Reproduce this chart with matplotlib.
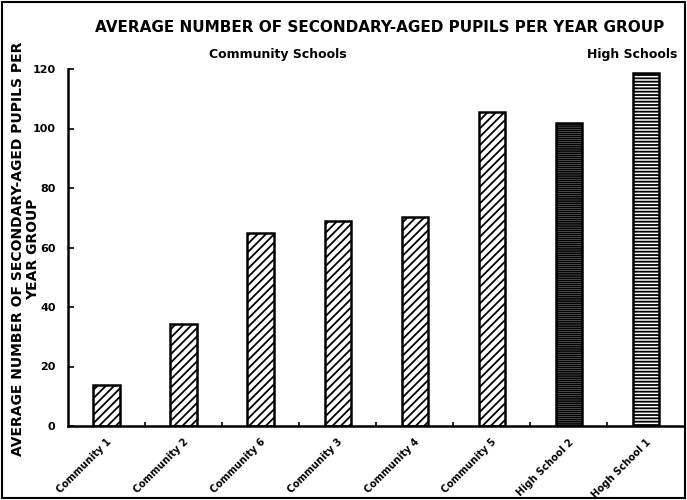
import numpy as np
import matplotlib.pyplot as plt
from matplotlib.patches import Rectangle

# data
schools = ['Community 1', 'Community 2', 'Community 6', 'Community 3',
           'Community 4', 'Community 5', 'High School 2', 'Hogh School 1']
pupils = [13.8, 34.3, 64.9, 68.9, 70.4, 105.4, 102.0, 118.8]
hatches = ['////'] * 6 + ['--------', '-----']

plt.rcParams['font.family'] = 'DejaVu Sans'
plt.rcParams['font.weight'] = 'bold'
plt.rcParams['hatch.linewidth'] = 1.3

fig = plt.figure(figsize=(6.87, 5), dpi=100)
ax = fig.add_axes([0.099, 0.148, 0.897, 0.714])

x = np.arange(len(schools))
for xi, v, h in zip(x, pupils, hatches):
    ax.bar(xi, v, width=0.34, color='white', edgecolor='black',
           linewidth=1.8, hatch=h)

ax.set_xlim(-0.5, len(schools) - 0.5)
ax.set_ylim(0, 120)
ax.set_yticks(np.arange(0, 121, 20))
ax.set_yticklabels([str(t) for t in range(0, 121, 20)], fontsize=8, fontweight='bold')
ax.set_xticks(x)
ax.set_xticklabels(schools, rotation=45, ha='right', rotation_mode='anchor',
                   fontsize=7, fontweight='bold')
ax.tick_params(axis='x', length=0, pad=8)
ax.set_xticks(np.arange(0.5, len(schools) - 0.5, 1), minor=True)
ax.tick_params(axis='x', which='minor', direction='in', length=3, width=1.2)
ax.tick_params(axis='y', direction='in', length=4, width=1.2, pad=9)

for s in ['top', 'right']:
    ax.spines[s].set_visible(False)
for s in ['left', 'bottom']:
    ax.spines[s].set_linewidth(1.8)

# y axis title, two lines
ylab_x = 0.026
ylab_y = 0.5 * (0.148 + 0.862) - 0.003
fig.text(ylab_x, ylab_y, 'AVERAGE NUMBER OF SECONDARY-AGED PUPILS PER',
         rotation=90, ha='center', va='center', fontsize=10, fontweight='bold')
fig.text(ylab_x + 0.0225, ylab_y, 'YEAR GROUP',
         rotation=90, ha='center', va='center', fontsize=10, fontweight='bold')

fig.text(0.553, 0.944, 'AVERAGE NUMBER OF SECONDARY-AGED PUPILS PER YEAR GROUP',
         ha='center', va='center', fontsize=11, fontweight='bold')
fig.text(0.405, 0.891, 'Community Schools', ha='center', va='center',
         fontsize=9, fontweight='bold')
fig.text(0.92, 0.891, 'High Schools', ha='center', va='center',
         fontsize=9, fontweight='bold')

fig.patches.append(Rectangle((0.003, 0.004), 0.994, 0.992, transform=fig.transFigure,
                             fill=False, edgecolor='black', linewidth=1.5))

fig.savefig('out.png', dpi=100)
